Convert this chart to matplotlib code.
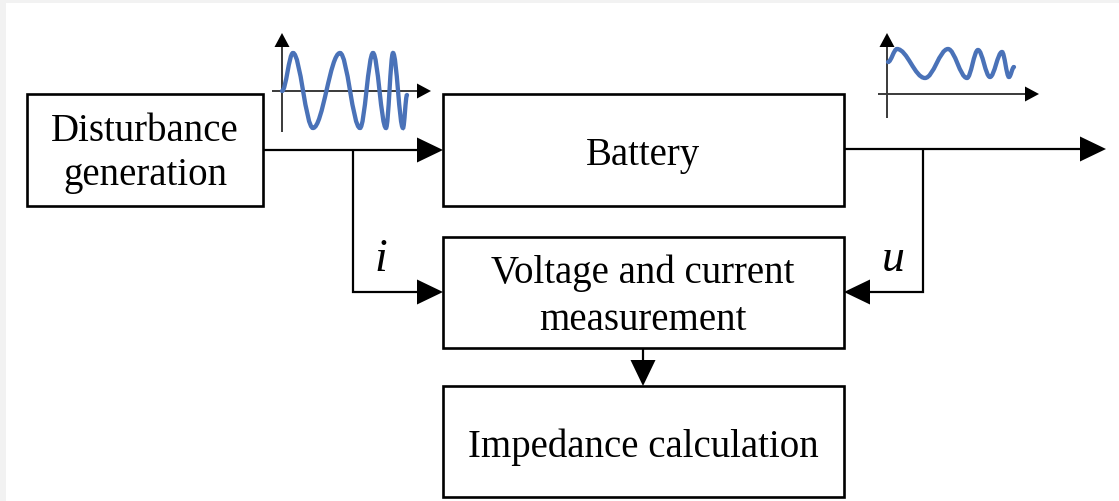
import matplotlib
matplotlib.use("Agg")
import matplotlib.pyplot as plt
from matplotlib.patches import Rectangle, Polygon, PathPatch
from matplotlib.path import Path

# block labels
label_disturb = "Disturbance\ngeneration"
label_battery = "Battery"
label_measure = "Voltage and current\nmeasurement"
label_impedance = "Impedance calculation"
label_i = "i"
label_u = "u"

# input waveform (chirp), extrema (pixels)
wave_in_x = [282, 293, 313, 340, 360, 373, 386, 393, 403, 407]
wave_in_y = [91, 53, 128, 53, 128, 53, 128, 53, 128, 95]

# response waveform, extrema (pixels)
wave_out_x = [888, 897, 925, 948, 967, 978, 990, 1002, 1009, 1014]
wave_out_y = [62, 49, 78, 49, 78, 50, 77, 52, 77, 67]

W, H = 1119, 501
fig = plt.figure(figsize=(W / 100, H / 100), dpi=100)
ax = fig.add_axes([0, 0, 1, 1])
ax.set_xlim(0, W)
ax.set_ylim(H, 0)
ax.axis("off")

# light grey frame on left / top edge of the screenshot
ax.add_patch(Rectangle((0, 0), 6, H, color="#f2f2f2", lw=0))
ax.add_patch(Rectangle((0, 0), W, 3, color="#f2f2f2", lw=0))

FONT = "Liberation Serif"
FS = 28
LW = 1.6


def box(x0, y0, x1, y1):
    ax.add_patch(Rectangle((x0, y0), x1 - x0, y1 - y0, fill=False,
                           ec="black", lw=1.9, zorder=3))


def head(tip, direction, length=26, width=25, color="black"):
    x, y = tip
    dx, dy = direction
    bx, by = x - dx * length, y - dy * length
    px, py = -dy * width / 2, dx * width / 2
    ax.add_patch(Polygon([(x, y), (bx + px, by + py), (bx - px, by - py)],
                         closed=True, color=color, lw=0, zorder=4))


def line(xs, ys, color="black", lw=LW):
    ax.plot(xs, ys, color=color, lw=lw, solid_capstyle="butt",
            solid_joinstyle="miter", zorder=2)


def wave(xs, ys, color="#4a72b8"):
    verts = [(xs[0], ys[0])]
    codes = [Path.MOVETO]
    for i in range(1, len(xs)):
        x0, y0, x1, y1 = xs[i - 1], ys[i - 1], xs[i], ys[i]
        dx = x1 - x0
        verts += [(x0 + 0.36 * dx, y0), (x1 - 0.36 * dx, y1), (x1, y1)]
        codes += [Path.CURVE4] * 3
    ax.add_patch(PathPatch(Path(verts, codes), fill=False, ec=color,
                           lw=3.1, capstyle="round", zorder=5))


# boxes
box(27, 94, 263, 206)
box(443, 94, 844, 206)
box(443, 237, 844, 348)
box(443, 386, 844, 497)

# disturbance -> battery
line([263, 418], [150, 150])
head((443, 150), (1, 0))
# branch to measurement (current)
line([353, 353, 418], [150, 292, 292])
head((443, 292), (1, 0))
# battery output
line([844, 1080], [149, 149])
head((1106, 149), (1, 0))
# branch to measurement (voltage)
line([923, 923, 870], [149, 292, 292])
head((844, 292), (-1, 0))
# measurement -> impedance
line([643, 643], [348, 362])
head((643, 386), (0, 1))

# block texts
ax.text(145, 141, "Disturbance", family=FONT, fontsize=FS, ha="center", va="baseline")
ax.text(145, 185, "generation", family=FONT, fontsize=FS, ha="center", va="baseline")
ax.text(643, 165, label_battery, family=FONT, fontsize=FS, ha="center", va="baseline")
ax.text(643, 283, "Voltage and current", family=FONT, fontsize=FS, ha="center", va="baseline")
ax.text(643, 330, "measurement", family=FONT, fontsize=FS, ha="center", va="baseline")
ax.text(643, 457, label_impedance, family=FONT, fontsize=FS, ha="center", va="baseline")
ax.text(381, 271, label_i, family=FONT, fontsize=33, style="italic", ha="center", va="baseline")
ax.text(893, 271, label_u, family=FONT, fontsize=33, style="italic", ha="center", va="baseline")

# input waveform icon
AXC = "#3a3a3a"
line([282, 282], [132, 46], color=AXC, lw=1.4)
head((282, 33), (0, -1), length=14, width=15)
line([272, 417], [91, 91], color=AXC, lw=1.4)
head((431, 91), (1, 0), length=14, width=15)
wave(wave_in_x, wave_in_y)

# response waveform icon
line([887, 887], [118, 46], color=AXC, lw=1.4)
head((887, 33), (0, -1), length=14, width=15)
line([878, 1025], [94, 94], color=AXC, lw=1.4)
head((1039, 94), (1, 0), length=14, width=15)
wave(wave_out_x, wave_out_y)

fig.savefig("out.png", dpi=100, facecolor="white")
